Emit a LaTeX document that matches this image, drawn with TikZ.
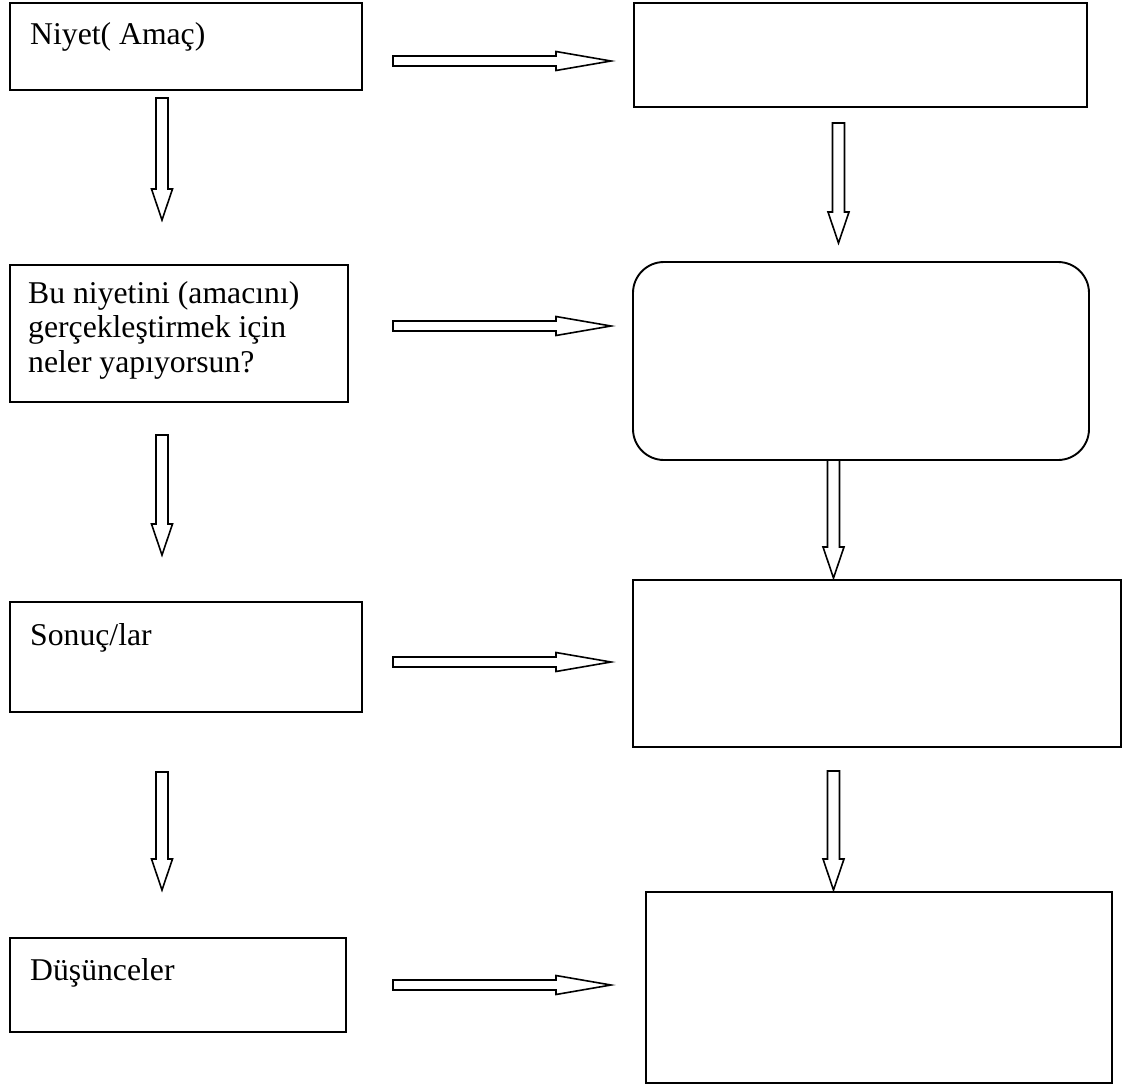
\documentclass[tikz,border=0pt]{standalone}
\usepackage{fontspec}
\setmainfont{Liberation Serif}
\usetikzlibrary{calc,fit}

% hollow block arrow: tail, tip, shaft half-width, head half-width, head length
\newcommand\hollowarrow[5]{%
  \path ($(#2)!#5!(#1)$) coordinate (neck);
  \draw[arrowline]
    ($(#1)!#3!90:(#2)$) -- ($(neck)!#3!90:(#2)$) -- ($(neck)!#4!90:(#2)$)
    -- (#2) -- ($(neck)!#4!-90:(#2)$) -- ($(neck)!#3!-90:(#2)$)
    -- ($(#1)!#3!-90:(#2)$) -- cycle;}

\begin{document}
\begin{tikzpicture}[x=1pt,y=-1pt,
  box/.style={draw, line width=1.9pt, inner sep=0pt},
  lbl/.style={inner sep=0pt, font=\fontsize{31.7}{34.5}\selectfont, align=left},
  arrowline/.style={draw, line width=1.6pt, fill=white}]
\useasboundingbox[fill=white] (0,0) rectangle (1127,1084);

% left column
\node[box, fit={(10,3)(362,90)}] (l1) {};
\node[box, fit={(10,265)(348,402)}] (l2) {};
\node[box, fit={(10,602)(362,712)}] (l3) {};
\node[box, fit={(10,938)(346,1032)}] (l4) {};

\node[lbl, anchor=base west] (t1) at (30,44) {Niyet( Amaç)};
% base anchor of a multi-line node sits on its last line
\node[lbl, anchor=base west] (t2) at (28,372) {Bu niyetini (amacını)\\gerçekleştirmek için\\neler yapıyorsun?};
\node[lbl, anchor=base west] (t3) at (30,645) {Sonuç/lar};
\node[lbl, anchor=base west] (t4) at (30,980) {Düşünceler};

% right column
\node[box, fit={(634,3)(1087,107)}] (r1) {};
\node[box, rounded corners=31pt, fit={(633,262)(1089,460)}] (r2) {};
\node[box, fit={(633,580)(1121,747)}] (r3) {};
\node[box, fit={(646,892)(1112,1083)}] (r4) {};

% horizontal arrows
\coordinate (h1a) at (393,61);  \coordinate (h1b) at (611,61);
\coordinate (h2a) at (393,326); \coordinate (h2b) at (611,326);
\coordinate (h3a) at (393,662); \coordinate (h3b) at (611,662);
\coordinate (h4a) at (393,985); \coordinate (h4b) at (611,985);
\foreach \i in {1,2,3,4}{\hollowarrow{h\i a}{h\i b}{5pt}{9.5pt}{55pt}}

% vertical arrows, left column
\coordinate (v1a) at (162,98);  \coordinate (v1b) at (162,220);
\coordinate (v2a) at (162,435); \coordinate (v2b) at (162,555);
\coordinate (v3a) at (162,772); \coordinate (v3b) at (162,890);
% vertical arrows, right column
\coordinate (w1a) at (838.5,123); \coordinate (w1b) at (838.5,243);
\coordinate (w2a) at (833.5,460); \coordinate (w2b) at (833.5,578);
\coordinate (w3a) at (833.5,771); \coordinate (w3b) at (833.5,890);
\foreach \c in {v1,v2,v3,w1,w2,w3}{\hollowarrow{\c a}{\c b}{6pt}{10.5pt}{31pt}}
\end{tikzpicture}
\end{document}
